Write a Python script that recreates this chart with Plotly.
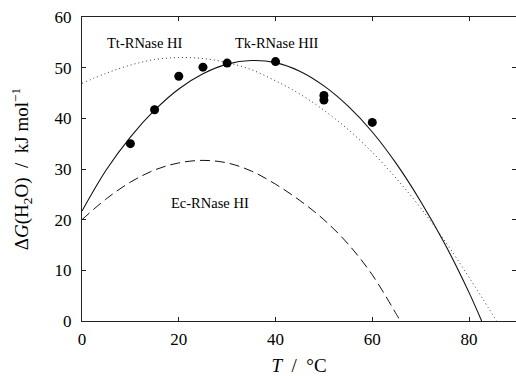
import plotly.graph_objects as go

# Observed points (Tk-RNase HII)
obs_T = [10, 15, 20, 25, 30, 40, 50, 50, 60]
obs_dG = [35.0, 41.7, 48.3, 50.1, 50.9, 51.2, 44.5, 43.6, 39.2]

# Tk-RNase HII curve (solid)
tk_T = [0, 5, 10, 15, 20, 25, 30, 35, 40, 45, 50, 55, 60, 65, 70, 75, 80, 82.6]
tk_dG = [21.7, 29.8, 36.3, 41.6, 45.8, 48.8, 50.7, 51.4, 51.0, 49.3, 46.4, 42.4, 37.3, 31.0, 23.6, 15.2, 5.6, 0.0]

# Tt-RNase HI curve (dotted)
tt_T = [0, 5, 10, 15, 20, 25, 30, 35, 40, 45, 50, 55, 60, 65, 70, 75, 80, 85.7]
tt_dG = [46.9, 48.9, 50.5, 51.6, 52.0, 51.8, 51.0, 49.6, 47.4, 44.8, 41.6, 37.8, 33.3, 28.1, 22.3, 15.8, 8.6, 0.0]

# Ec-RNase HI curve (dashed)
ec_T = [0, 5, 10, 15, 20, 25, 30, 35, 40, 45, 50, 55, 60, 65, 65.8]
ec_dG = [20.0, 24.1, 27.4, 29.8, 31.2, 31.7, 31.2, 29.6, 27.0, 23.8, 20.0, 15.2, 9.1, 1.3, 0.0]

x_ticks = [0, 20, 40, 60, 80]
y_ticks = [0, 10, 20, 30, 40, 50, 60]

labels = ["Tt-RNase HI", "Tk-RNase HII", "Ec-RNase HI"]
label_T = [12.9, 40.3, 26.4]
label_dG = [54.8, 54.8, 23.2]

FONT = "Liberation Serif"

fig = go.Figure()
fig.add_trace(go.Scatter(x=tt_T, y=tt_dG, mode="lines",
                         line=dict(color="#333", width=1, dash="1px,3px", shape="spline", smoothing=1),
                         hoverinfo="skip"))
fig.add_trace(go.Scatter(x=ec_T, y=ec_dG, mode="lines",
                         line=dict(color="#111", width=1, dash="10px,5px", shape="spline", smoothing=1),
                         hoverinfo="skip"))
fig.add_trace(go.Scatter(x=tk_T, y=tk_dG, mode="lines",
                         line=dict(color="#111", width=1.1, shape="spline", smoothing=1),
                         hoverinfo="skip"))
fig.add_trace(go.Scatter(x=obs_T, y=obs_dG, mode="markers",
                         marker=dict(color="black", size=9, line=dict(width=0))))
fig.add_trace(go.Scatter(x=[None], y=[None], yaxis="y2", hoverinfo="skip"))

for t, xx, yy in zip(labels, label_T, label_dG):
    fig.add_annotation(x=xx, y=yy, text=t, showarrow=False,
                       font=dict(family=FONT, size=14.5, color="black"))

axis_common = dict(ticks="inside", ticklen=4, tickcolor="#222", showgrid=False, zeroline=False,
                   automargin=False,
                   tickfont=dict(family=FONT, size=17, color="black"))

fig.update_layout(
    width=516, height=376,
    margin=dict(l=82, r=0, t=17, b=55),
    paper_bgcolor="white", plot_bgcolor="white",
    font=dict(family=FONT, color="black"),
    showlegend=False,
    xaxis=dict(range=[0, 89.7], tickvals=x_ticks, showline=True, linecolor="#222", linewidth=1,
               mirror="ticks", ticklabelstandoff=3,
               title=dict(text="<i>T</i>  /  °C", font=dict(family=FONT, size=19, color="black"), standoff=11),
               **axis_common),
    yaxis=dict(range=[0, 60], tickvals=y_ticks, showline=True, linecolor="#222", linewidth=1,
               ticklabelstandoff=6,
               title=dict(text="Δ<i>G</i>(H<sub>2</sub>O)  /  kJ mol<sup>−1</sup>",
                          font=dict(family=FONT, size=19, color="black"), standoff=20),
               **axis_common),
    yaxis2=dict(range=[0, 60], tickvals=y_ticks, overlaying="y", side="right", showline=False,
                showticklabels=False, ticks="inside", ticklen=4, tickcolor="#222",
                showgrid=False, zeroline=False, automargin=False),
)

fig.write_html("out.html", config={"displayModeBar": False},
               post_script="document.body.style.margin='0';document.body.style.overflow='hidden';")
